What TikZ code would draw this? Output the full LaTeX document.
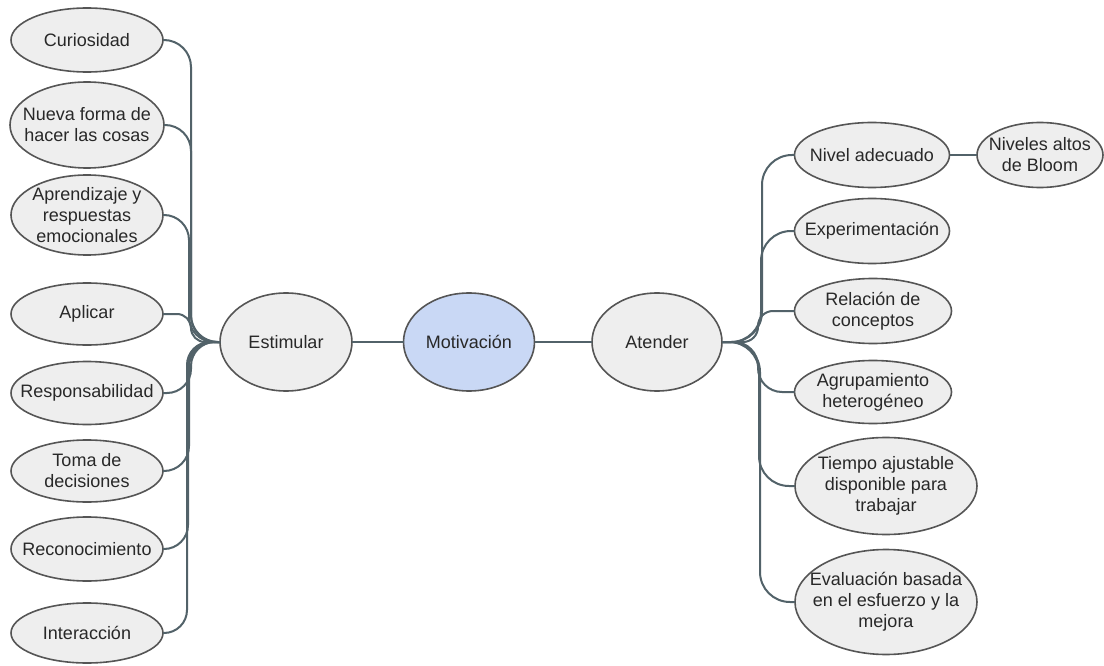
\documentclass[tikz,border=0pt]{standalone}
\usepackage{fontspec}
\setmainfont{Liberation Sans}
\usetikzlibrary{shapes.geometric}
\definecolor{bord}{RGB}{85,85,85}
\definecolor{bfill}{RGB}{238,238,238}
\definecolor{bblue}{RGB}{201,216,245}
\definecolor{lin}{RGB}{82,98,105}
\definecolor{txt}{RGB}{40,40,40}
\tikzset{
  bub/.style={ellipse, draw=bord, fill=bfill, line width=1.6pt, inner sep=0pt, outer sep=0pt},
  btxt/.style={font=\fontsize{18}{21}\selectfont, text=txt, align=center, inner sep=0pt},
  conn/.style={draw=lin, line width=2pt},
  hub/.style={fill=bblue},
}
\newcommand\bubnode[7][]{%
  \node[bub, minimum width=#5pt, minimum height=#6pt, #1] (#2) at (#3,#4) {};
  \node[btxt] (#2-t) at (#2.center) {#7};}
\begin{document}
\begin{tikzpicture}[x=1pt,y=-1pt]
\useasboundingbox (0,0) rectangle (1104,666);
% center
\bubnode{est}{286}{342}{132}{98}{Estimular}
\bubnode[hub]{mot}{469}{342}{131}{98}{Motivación}
\bubnode{atd}{657}{342}{130}{98}{Atender}
% left
\bubnode{cur}{87}{40}{152}{64}{Curiosidad}
\bubnode{nue}{87}{125}{154}{86}{Nueva forma de\\hacer las cosas}
\bubnode{apr}{87}{215}{152}{80}{Aprendizaje y\\respuestas\\emocionales}
\bubnode{apl}{87}{314}{152}{62}{Aplicar}
\bubnode{res}{87}{393}{152}{63}{Responsabilidad}
\bubnode{tom}{87}{471}{152}{62}{Toma de\\decisiones}
\bubnode{rec}{87}{549}{152}{64}{Reconocimiento}
\bubnode{int}{87}{633}{152}{60}{Interacción}
% right
\bubnode{niv}{872}{155}{155}{65}{Nivel adecuado}
\bubnode{blo}{1040}{155}{126}{65}{Niveles altos\\de Bloom}
\bubnode{exp}{872}{231}{155}{65}{Experimentación}
\bubnode{rel}{873}{311}{157}{65}{Relación de\\conceptos}
\bubnode{agr}{873}{392}{157}{63}{Agrupamiento\\heterogéneo}
\bubnode{tie}{886}{486}{182}{97}{Tiempo ajustable\\disponible para\\trabajar}
\bubnode{eva}{886}{602}{182}{105}{Evaluación basada\\en el esfuerzo y la\\mejora}
% center connectors
\draw[conn] (est) -- (mot);
\draw[conn] (mot) -- (atd);
% left connectors
\draw[conn, rounded corners=27pt] (cur.east) -- ++(28,0) |- (est.west);
\draw[conn, rounded corners=26pt] (nue.east) -- ++(27,0) |- (est.west);
\draw[conn, rounded corners=25pt] (apr.east) -- ++(26,0) |- (est.west);
\draw[conn, rounded corners=14pt] (apl.east) -- ++(28,0) |- (est.west);
\draw[conn, rounded corners=24pt] (res.east) -- ++(28,0) |- (est.west);
\draw[conn, rounded corners=25pt] (tom.east) -- ++(26,0) |- (est.west);
\draw[conn, rounded corners=24pt] (rec.east) -- ++(25,0) |- (est.west);
\draw[conn, rounded corners=23pt] (int.east) -- ++(24,0) |- (est.west);
% right connectors
\draw[conn, rounded corners=30pt] (atd.east) -- ++(40,0) |- (niv.west);
\draw[conn, rounded corners=30pt] (atd.east) -- ++(39,0) |- (exp.west);
\draw[conn, rounded corners=15pt] (atd.east) -- ++(36,0) |- (rel.west);
\draw[conn, rounded corners=24pt] (atd.east) -- ++(36,0) |- (agr.west);
\draw[conn, rounded corners=30pt] (atd.east) -- ++(37,0) |- (tie.west);
\draw[conn, rounded corners=30pt] (atd.east) -- ++(38,0) |- (eva.west);
\draw[conn] (niv) -- (blo);
\end{tikzpicture}
\end{document}
